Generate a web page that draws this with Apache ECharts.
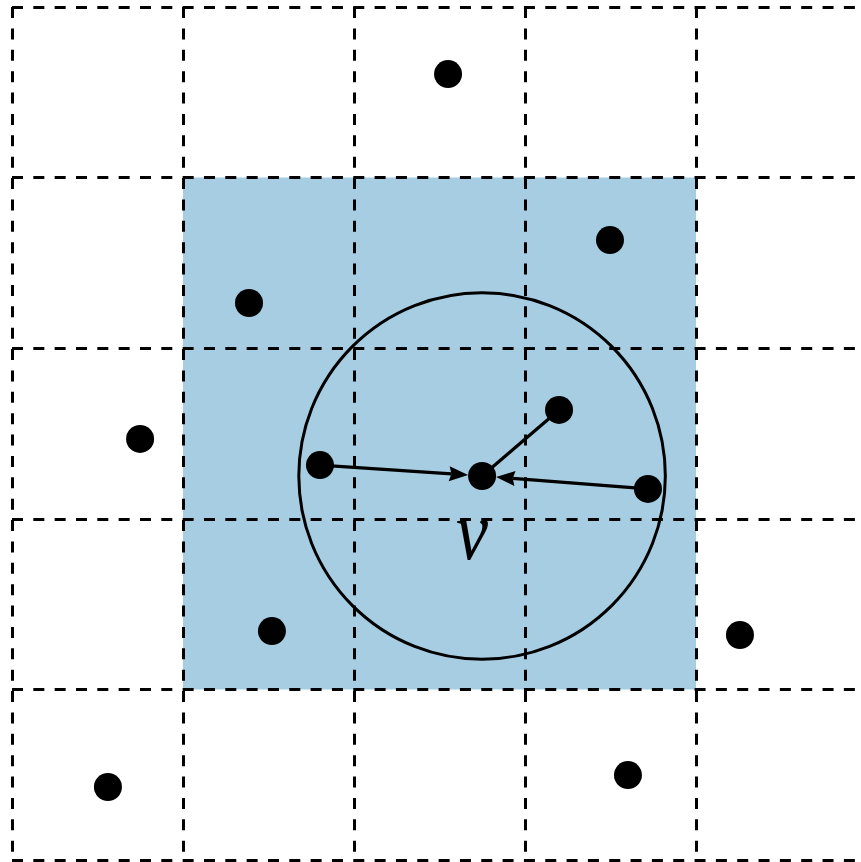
<!DOCTYPE html>
<html>
<head>
<meta charset="utf-8">
<style>
  html, body { margin: 0; padding: 0; background: #ffffff; }
  #chart { width: 861px; height: 862px; }
</style>
<script src="https://cdn.jsdelivr.net/npm/echarts@6/dist/echarts.min.js"></script>
</head>
<body>
<div id="chart"></div>
<script>
// Points (grid units: one cell = 1)
const pointsX = [2.550, 3.497, 1.386, 0.749, 1.801, 2.749, 3.199, 3.719, 1.520, 4.257, 0.561, 3.602];
const pointsY = [4.607, 3.634, 3.265, 2.468, 2.315, 2.251, 2.638, 2.175, 1.342, 1.319, 0.428, 0.498];
// Highlighted neighbourhood (x0, y0, x1, y1)
const regionBox = [[1, 1, 4, 4]];
// Query circle (cx, cy, r)
const queryCircle = [[2.749, 2.251, 1.073]];
// Edges: from-point index, to-point index, arrowhead (1/0)
const edgeFrom = [4, 7, 6];
const edgeTo = [5, 5, 5];
const edgeHead = [1, 1, 0];
// Label
const labelText = ['v'];
const labelPos = [[2.690, 1.890]];

const chart = echarts.init(document.getElementById('chart'), null, { renderer: 'canvas' });

const dotRadius = 14;

const axisCommon = {
  type: 'value', min: 0, max: 5, interval: 1,
  axisLine: { show: false }, axisTick: { show: false }, axisLabel: { show: false },
  z: 10
};

const edgeData = edgeFrom.map((f, i) => [pointsX[f], pointsY[f], pointsX[edgeTo[i]], pointsY[edgeTo[i]], edgeHead[i]]);

chart.setOption({
  animation: false,
  backgroundColor: '#ffffff',
  grid: { left: 12, top: 7, width: 855, height: 853, containLabel: false, outerBoundsMode: 'none' },
  xAxis: Object.assign({}, axisCommon, {
    splitLine: { show: true, lineStyle: { color: '#000', width: 3, type: [11, 10.375] } }
  }),
  yAxis: Object.assign({}, axisCommon, {
    splitLine: { show: true, lineStyle: { color: '#000', width: 3, type: [11, 10.33] } }
  }),
  series: [
    {
      type: 'custom', z: 1, silent: true,
      data: regionBox,
      renderItem: function (params, api) {
        const p0 = api.coord([api.value(0), api.value(3)]);
        const p1 = api.coord([api.value(2), api.value(1)]);
        return { type: 'rect', shape: { x: p0[0], y: p0[1], width: p1[0] - p0[0], height: p1[1] - p0[1] },
                 style: { fill: '#a6cde2' } };
      }
    },
    {
      type: 'custom', z: 20, silent: true,
      data: queryCircle,
      renderItem: function (params, api) {
        const c = api.coord([api.value(0), api.value(1)]);
        const r = api.size([api.value(2), api.value(2)]);
        return { type: 'circle', shape: { cx: c[0], cy: c[1], r: (r[0] + r[1]) / 2 },
                 style: { fill: 'none', stroke: '#000', lineWidth: 3 } };
      }
    },
    {
      type: 'custom', z: 25, silent: true,
      data: edgeData,
      renderItem: function (params, api) {
        const a = api.coord([api.value(0), api.value(1)]);
        const b = api.coord([api.value(2), api.value(3)]);
        const dx = b[0] - a[0], dy = b[1] - a[1];
        const len = Math.sqrt(dx * dx + dy * dy);
        const ux = dx / len, uy = dy / len;
        const tip = [b[0] - ux * dotRadius, b[1] - uy * dotRadius];
        const headLen = 19, headHalf = 7.5, notch = 0.88;
        const children = [];
        const hasHead = api.value(4) === 1;
        const lineEnd = hasHead ? [tip[0] - ux * headLen * notch, tip[1] - uy * headLen * notch] : b;
        children.push({ type: 'line', shape: { x1: a[0], y1: a[1], x2: lineEnd[0], y2: lineEnd[1] },
                        style: { stroke: '#000', lineWidth: 3.2 } });
        if (hasHead) {
          const base = [tip[0] - ux * headLen, tip[1] - uy * headLen];
          children.push({ type: 'polygon', shape: { points: [
            tip,
            [base[0] - uy * headHalf, base[1] + ux * headHalf],
            [tip[0] - ux * headLen * notch, tip[1] - uy * headLen * notch],
            [base[0] + uy * headHalf, base[1] - ux * headHalf]
          ] }, style: { fill: '#000' } });
        }
        return { type: 'group', children: children };
      }
    },
    {
      type: 'scatter', z: 30, silent: true,
      symbol: 'circle', symbolSize: dotRadius * 2,
      itemStyle: { color: '#000', opacity: 1 },
      data: pointsX.map((x, i) => [x, pointsY[i]])
    },
    {
      type: 'custom', z: 30, silent: true,
      data: labelPos.map((p, i) => [p[0], p[1], labelText[i]]),
      renderItem: function (params, api) {
        const c = api.coord([api.value(0), api.value(1)]);
        return { type: 'text', x: c[0], y: c[1], scaleX: 1, scaleY: 1.15,
                 style: { text: labelText[params.dataIndex], x: 0, y: 0, align: 'center', verticalAlign: 'middle',
                          font: 'italic 72px "Liberation Serif", "DejaVu Serif", serif', fill: '#000' } };
      }
    }
  ]
});
</script>
</body>
</html>
